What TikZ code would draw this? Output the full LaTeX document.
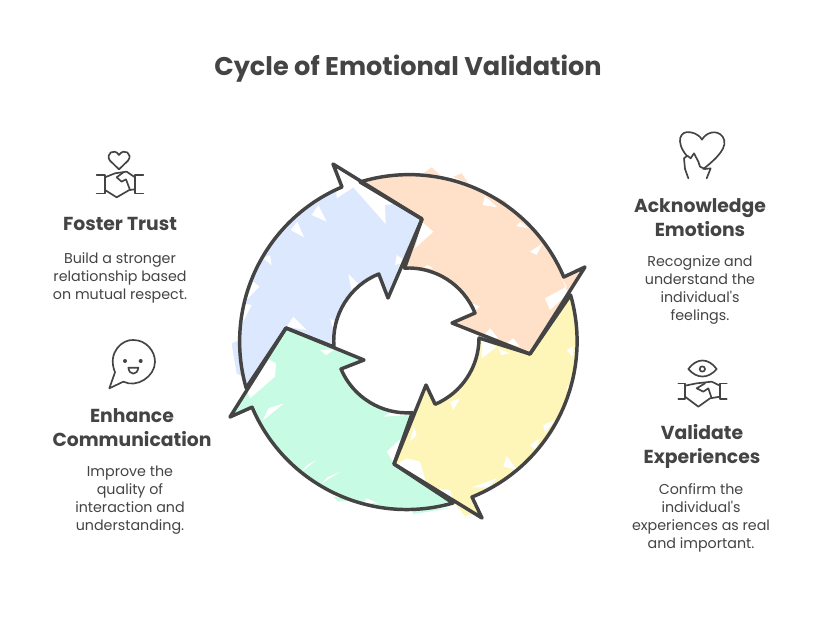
\documentclass[tikz,border=0pt]{standalone}
\usepackage{fontspec}
\setmainfont{Poppins}[Mapping=none]
\definecolor{ink}{HTML}{444444}
\definecolor{peach}{HTML}{FFE0C8}
\definecolor{sky}{HTML}{DCE8FE}
\definecolor{mint}{HTML}{C8FBE3}
\definecolor{lemon}{HTML}{FEF6B8}
\tikzset{
    outline/.style={draw=ink,line width=2.6pt,line join=round,line cap=round},
    gap/.style={fill=white,draw=none},
    icon/.style={draw=ink,line width=1.25pt,line join=round,line cap=round},
    zoomed/.style={x=0.25pt,y=-0.25pt},
    heading/.style={text=ink,align=center,font=\bfseries\fontsize{14.1}{18}\selectfont},
    body/.style={text=ink,align=center,font=\fontsize{10.7}{13.5}\selectfont},
}
\newcommand{\orangepath}{(360,182) arc[start angle=107,end angle=23,radius=126pt] -- (585,267) -- (530,354) -- (452,323) -- (475,313) arc[start angle=22,end angle=93,radius=54pt] -- (422,219) -- cycle}
\newcommand{\bluepath}{(388,298) -- (422,219) -- (333,164) -- (342,187) arc[start angle=113,end angle=196,radius=126pt] -- (286,328) -- (334,347) arc[start angle=185,end angle=112,radius=54pt] -- cycle}
\newcommand{\greenpath}{(286,328) -- (364,360) -- (341,369) arc[start angle=203,end angle=274,radius=54pt] -- (394,464) -- (453,503) arc[start angle=286,end angle=203,radius=126pt] -- (230,417) -- cycle}
\newcommand{\yellowpath}{(394,464) -- (482,518) -- (472,497) arc[start angle=292,end angle=376,radius=126pt] -- (530,354) -- (479,338) arc[start angle=360,end angle=293,radius=54pt] -- (426,385) -- cycle}
\begin{document}
\begin{tikzpicture}[x=0.75pt,y=-0.75pt]
    \useasboundingbox (0,0) rectangle (816,624);
    \fill[white] (0,0) rectangle (816,624);

    \fill[peach] \orangepath;
    \fill[sky] \bluepath;
    \fill[mint] \greenpath;
    \fill[lemon] \yellowpath;

    \begin{scope}[shift={(220,150)},zoomed]
        \fill[peach] (610,70) -- (635,52) -- (660,75) -- cycle;
        \fill[peach] (700,80) -- (725,70) -- (745,100) -- cycle;
        \fill[peach] (800,130) -- (860,155) -- (850,170) -- cycle;
        \fill[sky] (60,570) -- (35,580) -- (50,670) -- (85,690) -- cycle;
        \fill[mint] (340,1040) -- (355,1055) -- (400,1050) -- cycle;
        \fill[mint] (575,1078) -- (580,1092) -- (690,1075) -- cycle;
        \fill[lemon] (705,1060) -- (735,1098) -- (770,1090) -- cycle;
        \fill[lemon] (1060,590) -- (1072,600) -- (1060,680) -- cycle;

        \fill[gap] (345,50) -- (600,205) -- (540,160) -- (495,165) -- (497,222) -- (400,112) -- (350,145) -- cycle;
        \fill[gap] (295,165) -- (320,215) -- (275,195) -- cycle;
        \fill[gap] (232,215) -- (252,262) -- (212,240) -- cycle;
        \fill[gap] (150,315) -- (155,345) -- (130,325) -- cycle;
        \fill[gap] (100,395) -- (118,410) -- (75,455) -- cycle;
        \fill[gap] (70,460) -- (95,465) -- (62,530) -- cycle;
        \fill[gap] (385,372) -- (425,412) -- (395,425) -- cycle;
        \fill[gap] (330,505) -- (355,520) -- (340,540) -- cycle;
        \fill[gap] (590,235) -- (605,215) -- (545,345) -- (530,365) -- cycle;
        \fill[gap] (530,315) -- (560,335) -- (525,345) -- cycle;
        \fill[gap] (220,500) -- (260,540) -- (200,530) -- cycle;

        \fill[gap] (605,215) -- (640,245) -- (585,295) -- cycle;
        \fill[gap] (795,138) -- (832,172) -- (788,165) -- cycle;
        \fill[gap] (900,215) -- (925,235) -- (890,228) -- cycle;
        \fill[gap] (930,305) -- (968,280) -- (950,315) -- cycle;
        \fill[gap] (1025,385) -- (1040,410) -- (975,445) -- (990,480) -- (1045,430) -- cycle;
        \fill[gap] (622,345) -- (640,355) -- (610,355) -- cycle;
        \fill[gap] (745,455) -- (780,470) -- (755,490) -- cycle;
        \fill[gap] (810,535) -- (835,565) -- (785,565) -- cycle;
        \fill[gap] (880,565) -- (900,590) -- (860,580) -- cycle;

        \fill[gap] (930,615) -- (1045,440) -- (1000,520) -- (950,590) -- cycle;
        \fill[gap] (785,570) -- (830,590) -- (785,625) -- cycle;
        \fill[gap] (835,595) -- (870,610) -- (845,615) -- cycle;
        \fill[gap] (1060,590) -- (1040,600) -- (1058,620) -- cycle;
        \fill[gap] (1040,710) -- (1060,705) -- (1045,735) -- cycle;
        \fill[gap] (1005,810) -- (970,825) -- (975,850) -- cycle;
        \fill[gap] (930,885) -- (960,865) -- (945,900) -- cycle;
        \fill[gap] (860,918) -- (892,960) -- (850,950) -- cycle;
        \fill[gap] (830,985) -- (755,1012) -- (805,1012) -- cycle;
        \fill[gap] (525,945) -- (700,1052) -- (690,1020) -- (622,1012) -- (600,935) -- (560,925) -- cycle;
        \fill[gap] (720,745) -- (700,780) -- (690,755) -- cycle;
        \fill[gap] (590,855) -- (570,875) -- (582,830) -- cycle;

        \fill[gap] (140,625) -- (168,640) -- (165,680) -- (90,745) -- (80,720) -- cycle;
        \fill[gap] (192,760) -- (128,812) -- (145,775) -- cycle;
        \fill[gap] (290,930) -- (245,965) -- (262,945) -- cycle;
        \fill[gap] (362,965) -- (305,1000) -- (322,982) -- cycle;
        \fill[gap] (500,905) -- (558,852) -- (522,940) -- cycle;
        \fill[gap] (490,800) -- (540,770) -- (565,795) -- cycle;
        \fill[gap] (300,600) -- (345,598) -- (318,615) -- cycle;
        \fill[gap] (440,1045) -- (475,1060) -- (430,1058) -- cycle;
    \end{scope}

    \draw[outline] \orangepath;
    \draw[outline] \bluepath;
    \draw[outline] \greenpath;
    \draw[outline] \yellowpath;

    \node[text=ink,font=\bfseries\fontsize{19.2}{24}\selectfont] (title) at (408,69) {Cycle of Emotional Validation};

    \node[heading] (trust) at (120,224) {Foster Trust};
    \node[body] (trusttext) at (120,278) {Build a stronger\\relationship based\\on mutual respect.};
    \node[heading] (ack) at (700,218) {Acknowledge\\Emotions};
    \node[body] (acktext) at (700,290) {Recognize and\\understand the\\individual's\\feelings.};
    \node[heading] (valid) at (702,446) {Validate\\Experiences};
    \node[body] (validtext) at (701,518) {Confirm the\\individual's\\experiences as real\\and important.};
    \node[heading] (comm) at (132,428) {Enhance\\Communication};
    \node[body] (commtext) at (130,500) {Improve the\\quality of\\interaction and\\understanding.};

    \begin{scope}[shift={(90,140)},zoomed]
        \draw[icon] (87,88) -- (60,62) .. controls (45,42) and (72,22) .. (87,45) .. controls (102,22) and (130,42) .. (114,62) -- cycle;
        \draw[icon] (20,105) -- (45,105) -- (45,160) -- (20,160);
        \draw[icon] (160,105) -- (135,105) -- (135,160) -- (160,160);
        \draw[icon] (45,112) -- (75,100) -- (110,95) -- (135,112);
        \draw[icon] (45,150) -- (80,172) -- (118,150) -- (135,148);
        \draw[icon] (100,97) -- (80,112) -- (95,125) -- (108,118) -- (120,150);
    \end{scope}

    \begin{scope}[shift={(670,125)},zoomed]
        \draw[icon] (50,92) .. controls (15,50) and (30,15) .. (62,22) .. controls (78,25) and (90,33) .. (96,44) .. controls (108,22) and (140,12) .. (158,35) .. controls (178,65) and (140,100) .. (100,132);
        \draw[icon] (55,160) -- (45,132) -- (42,100) -- (52,92) -- (62,100) -- (72,85) -- (85,110) -- (90,125) -- (105,132) -- (122,130) -- (110,160);
    \end{scope}

    \begin{scope}[shift={(670,355)},zoomed]
        \draw[icon] (55,42) .. controls (80,8) and (115,8) .. (140,42) .. controls (115,72) and (80,72) .. cycle;
        \draw[icon] (97,42) circle[radius=8];
        \draw[icon] (25,85) -- (45,85) -- (45,132) -- (25,132);
        \draw[icon] (170,85) -- (150,85) -- (150,132) -- (170,132);
        \draw[icon] (45,92) -- (80,85) -- (125,80) -- (150,92);
        \draw[icon] (45,125) -- (85,155) -- (120,130) -- (150,125);
        \draw[icon] (105,85) -- (80,100) -- (100,110) -- (115,100) -- (125,130);
    \end{scope}

    \begin{scope}[shift={(100,335)},zoomed]
        \draw[icon] (45,112) .. controls (20,50) and (70,12) .. (100,15) .. controls (140,15) and (165,50) .. (165,80) .. controls (165,125) and (110,160) .. (70,140) -- (28,160) -- cycle;
        \fill[ink] (75,78) circle[radius=6];
        \fill[ink] (122,78) circle[radius=6];
        \draw[icon] (85,98) -- (115,98) .. controls (112,122) and (88,122) .. cycle;
    \end{scope}
\end{tikzpicture}
\end{document}
